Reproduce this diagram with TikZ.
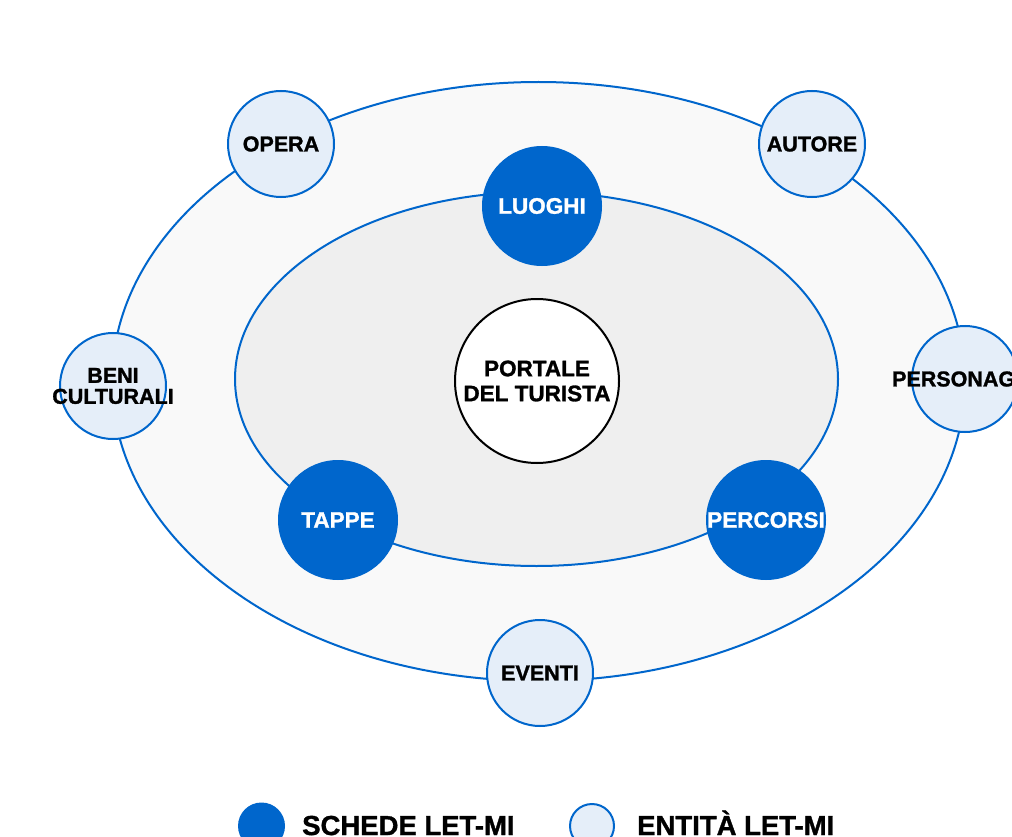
\documentclass[tikz,border=0pt]{standalone}
\usepackage{fontspec}
\setmainfont{Liberation Sans}[BoldFeatures={FakeBold=1.3}]
\definecolor{letblue}{HTML}{0066CC}
\definecolor{entfill}{HTML}{E5EEF9}
\definecolor{outerfill}{HTML}{F9F9F9}
\definecolor{innerfill}{HTML}{EFEFEF}
\newcommand{\zw}[1]{\makebox[0pt]{#1}}
\tikzset{
  scheda/.style={circle, fill=letblue, draw=none, minimum size=120pt, inner sep=0pt,
    text=white, font=\fontsize{22.5}{25}\selectfont\bfseries},
  entita/.style={circle, fill=entfill, draw=letblue, line width=2pt, minimum size=106pt, inner sep=0pt,
    text=black, align=center, font=\fontsize{21.5}{21}\selectfont\bfseries},
  legtext/.style={anchor=base west, inner sep=0pt, text=black, font=\fontsize{27.5}{27}\selectfont\bfseries},
}
\begin{document}
\begin{tikzpicture}[x=1pt,y=-1pt]
\useasboundingbox (0,0) rectangle (1012,837);
\clip (0,0) rectangle (1012,837);
\fill[white] (0,0) rectangle (1012,837);
% ellipses
\draw[fill=outerfill, draw=letblue, line width=2pt] (538.5,381.5) ellipse [x radius=426.5, y radius=299.5];
\draw[fill=innerfill, draw=letblue, line width=2pt] (536.5,379) ellipse [x radius=301.5, y radius=187];
% center
\node[circle, fill=white, draw=black, line width=2pt, minimum size=164pt, inner sep=0pt, align=center,
  font=\fontsize{22.5}{25}\selectfont\bfseries] (portale) at (537,381) {PORTALE\\DEL TURISTA};
% schede
\node[scheda] (luoghi) at (542,206) {LUOGHI};
\node[scheda] (tappe) at (338,520) {TAPPE};
\node[scheda] (percorsi) at (766,520) {PERCORSI};
% entita
\node[entita] (opera) at (281,144) {OPERA};
\node[entita] (autore) at (812,144) {AUTORE};
\node[entita] (beni) at (113,386) {\zw{BENI}\\\zw{CULTURALI}};
\node[entita] (personaggi) at (965,379) {\zw{PERSONAGGI}};
\node[entita] (eventi) at (540,673) {EVENTI};
% legend
\node[circle, fill=letblue, minimum size=47pt, inner sep=0pt] (legscheda) at (261.5,826) {};
\node[legtext] (legschedatext) at (302,835) {SCHEDE LET-MI};
\node[circle, fill=entfill, draw=letblue, line width=2pt, minimum size=44pt, inner sep=0pt] (legentita) at (592,826) {};
\node[legtext] (legentitatext) at (637,835) {ENTITÀ LET-MI};
\end{tikzpicture}
\end{document}
